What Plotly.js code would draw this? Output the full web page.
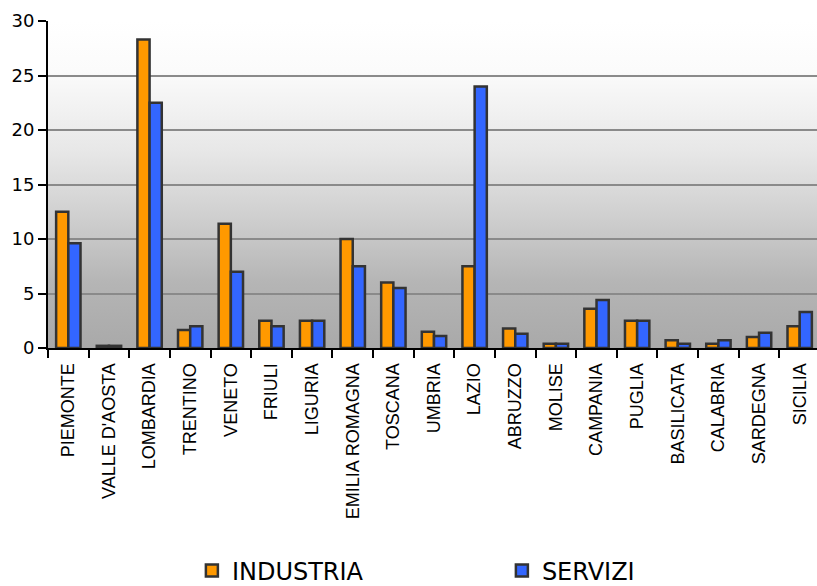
<!DOCTYPE html>
<html>
<head>
<meta charset="utf-8">
<script src="https://cdn.plot.ly/plotly-3.0.1.min.js"></script>
<style>
html, body { margin: 0; padding: 0; background: #ffffff; overflow: hidden; }
#chart { width: 820px; height: 586px; }
</style>
</head>
<body>
<div id="chart"></div>
<script>
const regions = ["PIEMONTE", "VALLE D'AOSTA", "LOMBARDIA", "TRENTINO", "VENETO", "FRIULI", "LIGURIA",
  "EMILIA ROMAGNA", "TOSCANA", "UMBRIA", "LAZIO", "ABRUZZO", "MOLISE", "CAMPANIA", "PUGLIA",
  "BASILICATA", "CALABRIA", "SARDEGNA", "SICILIA"];
const industria = [12.5, 0.2, 28.3, 1.65, 11.4, 2.5, 2.5, 10.0, 6.0, 1.5, 7.5, 1.8, 0.4, 3.6, 2.5, 0.7, 0.4, 1.0, 2.0];
const servizi = [9.6, 0.2, 22.5, 2.0, 7.0, 2.0, 2.5, 7.5, 5.5, 1.1, 24.0, 1.3, 0.4, 4.4, 2.5, 0.4, 0.7, 1.4, 3.3];
const seriesNames = ["INDUSTRIA", "SERVIZI"];
const yTicks = [0, 5, 10, 15, 20, 25, 30];

const gradSvg = '<svg xmlns="http://www.w3.org/2000/svg" width="100" height="100" preserveAspectRatio="none">' +
  '<defs><linearGradient id="g" x1="0" y1="0" x2="0" y2="1">' +
  '<stop offset="0" stop-color="#ffffff"/>' +
  '<stop offset="0.15" stop-color="#fbfbfb"/>' +
  '<stop offset="0.4" stop-color="#e7e7e7"/>' +
  '<stop offset="0.6" stop-color="#cfcfcf"/>' +
  '<stop offset="0.8" stop-color="#b5b5b5"/>' +
  '<stop offset="1" stop-color="#a9a9a9"/>' +
  '</linearGradient></defs><rect width="100" height="100" fill="url(#g)"/></svg>';
const gradUri = 'data:image/svg+xml;base64,' + btoa(gradSvg);

const traces = [
  {
    type: 'bar', name: seriesNames[0], x: regions, y: industria,
    marker: { color: '#ff9900', line: { color: '#333333', width: 2.5 } }
  },
  {
    type: 'bar', name: seriesNames[1], x: regions, y: servizi,
    marker: { color: '#3366ff', line: { color: '#333333', width: 2.5 } }
  }
];

const layout = {
  width: 820, height: 586,
  margin: { l: 48, r: 0, t: 21, b: 238, autoexpand: false },
  paper_bgcolor: '#ffffff',
  plot_bgcolor: 'rgba(0,0,0,0)',
  barmode: 'group',
  bargap: 0.4,
  bargroupgap: 0,
  images: [{
    source: gradUri, xref: 'paper', yref: 'paper', x: 0, y: 1, sizex: 1, sizey: 1,
    xanchor: 'left', yanchor: 'top', sizing: 'stretch', layer: 'below'
  }],
  xaxis: {
    type: 'category',
    tickangle: -90,
    ticks: 'outside', tickson: 'boundaries', ticklen: 8, tickwidth: 2, tickcolor: '#000000',
    ticklabelstandoff: 6,
    showline: true, linecolor: '#000000', linewidth: 2,
    showgrid: false,
    tickfont: { family: 'Liberation Sans, Arial, sans-serif', size: 18, color: '#000000' }
  },
  yaxis: {
    range: [0, 30],
    tickvals: yTicks,
    ticktext: yTicks.map(String),
    ticks: 'outside', ticklen: 8, tickwidth: 2, tickcolor: '#000000',
    showline: true, linecolor: '#000000', linewidth: 2,
    showgrid: true, gridcolor: '#8a8a8a', gridwidth: 2,
    zeroline: false,
    tickfont: { family: 'DejaVu Sans, Verdana, sans-serif', size: 18, color: '#000000' }
  },
  showlegend: true,
  legend: {
    orientation: 'h',
    xref: 'container', yref: 'container',
    x: 0.234, y: 0.0256, xanchor: 'left', yanchor: 'middle',
    entrywidth: 265, entrywidthmode: 'pixels',
    font: { family: 'DejaVu Sans, Verdana, sans-serif', size: 24, color: '#000000' },
    bgcolor: 'rgba(0,0,0,0)'
  }
};

Plotly.newPlot('chart', traces, layout, { displayModeBar: false, staticPlot: true });
</script>
</body>
</html>
